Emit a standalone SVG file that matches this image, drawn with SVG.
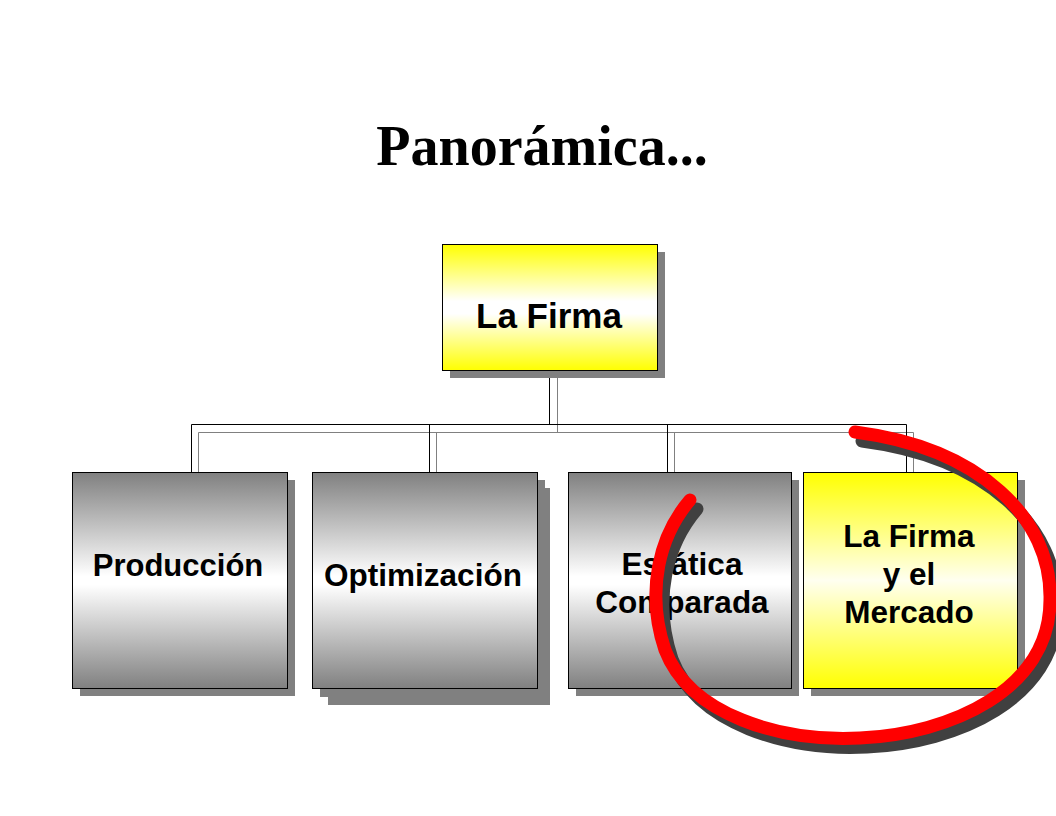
<svg xmlns="http://www.w3.org/2000/svg" width="1056" height="816" viewBox="0 0 1056 816">
  <defs>
    <linearGradient id="gYellow" x1="0" y1="0" x2="0" y2="1">
      <stop offset="0" stop-color="#ffff00"/>
      <stop offset="0.45" stop-color="#ffffff"/>
      <stop offset="0.55" stop-color="#ffffff"/>
      <stop offset="1" stop-color="#ffff00"/>
    </linearGradient>
    <linearGradient id="gGray" x1="0" y1="0" x2="0" y2="1">
      <stop offset="0" stop-color="#808080"/>
      <stop offset="0.48" stop-color="#ffffff"/>
      <stop offset="0.52" stop-color="#ffffff"/>
      <stop offset="1" stop-color="#808080"/>
    </linearGradient>
    <linearGradient id="gYellow2" x1="0" y1="0" x2="0" y2="1">
      <stop offset="0" stop-color="#ffff00"/>
      <stop offset="0.5" stop-color="#fffff0"/>
      <stop offset="1" stop-color="#ffff00"/>
    </linearGradient>
  </defs>
  <style>
    .shadow { fill: #808080; }
    .box { stroke: #000000; stroke-width: 1; }
    .lbl { font-family: "Liberation Sans", Arial, sans-serif; font-weight: bold; fill: #000000; text-anchor: middle; }
    .blk { stroke: #000000; stroke-width: 1; fill: none; }
    .gry { stroke: #808080; stroke-width: 1; fill: none; }
  </style>
  <rect width="1056" height="816" fill="#ffffff"/>

  <text x="542" y="165" font-family="'Liberation Serif', 'Times New Roman', serif" font-weight="bold" font-size="56" text-anchor="middle" fill="#000000">Panorámica...</text>

  <g id="connectors">
    <path class="gry" d="M557.5 378 V432.5 M198.5 472 V432.5 H913.5 V472 M436.5 432.5 V472 M674.5 432.5 V472"/>
    <path class="blk" d="M549.5 370 V424.5 M191.5 472 V424.5 H906.5 V472 M429.5 424.5 V472 M667.5 424.5 V472"/>
  </g>

  <g id="node-firma">
    <rect class="shadow" x="450" y="252" width="215" height="126"/>
    <rect class="box" x="442.5" y="244.5" width="215" height="126" fill="url(#gYellow)"/>
    <text class="lbl" x="549" y="328" font-size="35">La Firma</text>
  </g>

  <g id="node-produccion">
    <rect class="shadow" x="80" y="480" width="215" height="216"/>
    <rect class="box" x="72.5" y="472.5" width="215" height="216" fill="url(#gGray)"/>
    <text class="lbl" x="178" y="576" font-size="31">Producción</text>
  </g>

  <g id="node-optimizacion">
    <rect class="shadow" x="328" y="488" width="222" height="217"/>
    <rect class="shadow" x="320" y="480" width="225" height="217"/>
    <rect class="box" x="312.5" y="472.5" width="225" height="216" fill="url(#gGray)"/>
    <text class="lbl" x="423" y="586" font-size="31.5">Optimización</text>
  </g>

  <g id="node-estatica">
    <rect class="shadow" x="576" y="480" width="223" height="216"/>
    <rect class="box" x="568.5" y="472.5" width="223" height="216" fill="url(#gGray)"/>
    <text class="lbl" x="682" y="575" font-size="31.5">Estática</text>
    <text class="lbl" x="682" y="613" font-size="31.5">Comparada</text>
  </g>

  <g id="node-mercado">
    <rect class="shadow" x="811" y="480" width="214" height="216"/>
    <rect class="box" x="803.5" y="472.5" width="214" height="216" fill="url(#gYellow2)"/>
    <text class="lbl" x="909" y="547" font-size="31.5">La Firma</text>
    <text class="lbl" x="909" y="585" font-size="31.5">y el</text>
    <text class="lbl" x="909" y="623" font-size="31.5">Mercado</text>
  </g>

  <g id="highlight">
    <path d="M690 500 C660 535 645 590 665 650 C690 715 780 742 860 738 C950 734 1050 690 1050 600 C1052 518 980 448 855 432" fill="none" stroke="#404040" stroke-width="13" stroke-linecap="round" transform="translate(7,9)"/>
    <path d="M690 500 C660 535 645 590 665 650 C690 715 780 742 860 738 C950 734 1050 690 1050 600 C1052 518 980 448 855 432" fill="none" stroke="#ff0000" stroke-width="13" stroke-linecap="round"/>
  </g>
</svg>
